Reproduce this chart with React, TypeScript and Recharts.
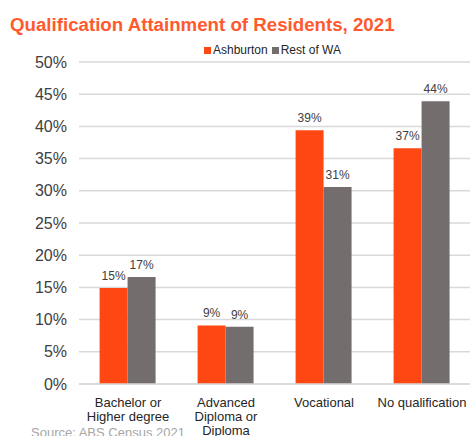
import { BarChart, Bar, XAxis, YAxis, CartesianGrid, LabelList } from "recharts";

const categories = ["Bachelor or\nHigher degree", "Advanced\nDiploma or\nDiploma", "Vocational", "No qualification"];
const ashburton = [14.9, 9.1, 39.4, 36.6];
const restOfWA = [16.6, 8.9, 30.6, 43.9];
const yTicks = [0, 5, 10, 15, 20, 25, 30, 35, 40, 45, 50];

const series = [
  { key: "ashburton", name: "Ashburton", color: "#FF4713" },
  { key: "rest", name: "Rest of WA", color: "#736E6D" },
];

const data = categories.map((c, i) => ({ name: c, ashburton: ashburton[i], rest: restOfWA[i] }));

const FONT = "'Liberation Sans', Arial, sans-serif";

function CategoryTick(props: any) {
  const { x, y, payload } = props;
  const lines = String(payload.value).split("\n");
  return (
    <text x={x} y={y} textAnchor="middle" fontSize={13} fill="#262626" fontFamily={FONT}>
      {lines.map((l, i) => (
        <tspan key={i} x={x} dy={i === 0 ? 15 : 14}>
          {l}
        </tspan>
      ))}
    </text>
  );
}

export default function App() {
  return (
    <div
      style={{
        position: "absolute",
        left: 0,
        top: 0,
        width: 470,
        height: 436,
        overflow: "hidden",
        background: "#fff",
        fontFamily: FONT,
      }}
    >
      <div
        style={{
          position: "absolute",
          left: 10,
          top: 14,
          fontSize: 18.7,
          fontWeight: "bold",
          color: "#FF5A2E",
          whiteSpace: "nowrap",
        }}
      >
        Qualification Attainment of Residents, 2021
      </div>
      <div
        style={{
          position: "absolute",
          left: 204,
          top: 43,
          fontSize: 12,
          color: "#262626",
          display: "flex",
          alignItems: "center",
          whiteSpace: "nowrap",
        }}
      >
        {series.map((s) => (
          <span key={s.key} style={{ display: "flex", alignItems: "center", marginRight: 4 }}>
            <span style={{ width: 7, height: 7, background: s.color, display: "inline-block", marginRight: 2 }} />
            {s.name}
          </span>
        ))}
      </div>
      <BarChart
        width={480}
        height={436}
        data={data}
        margin={{ top: 62, right: 9, bottom: 0, left: 0 }}
        barCategoryGap="21%"
        barGap={0}
        style={{ position: "absolute", left: 0, top: 0 }}
      >
        <CartesianGrid vertical={false} stroke="#d9d9d9" strokeWidth={1.5} />
        <XAxis
          dataKey="name"
          tick={<CategoryTick />}
          tickLine={false}
          axisLine={{ stroke: "#d9d9d9", strokeWidth: 1.5 }}
          interval={0}
          height={52}
        />
        <YAxis
          domain={[0, 50]}
          ticks={yTicks}
          tickFormatter={(v) => `${v}%`}
          tick={{ fontSize: 16, fill: "#404040", fontFamily: FONT }}
          tickLine={false}
          axisLine={false}
          tickMargin={6}
          width={79}
        />
        {series.map((s) => (
          <Bar key={s.key} dataKey={s.key} name={s.name} fill={s.color} isAnimationActive={false}>
            <LabelList
              dataKey={s.key}
              position="top"
              offset={8}
              formatter={(v: any) => `${Math.round(Number(v))}%`}
              style={{ fontSize: 12, fill: "#404040", fontFamily: FONT }}
            />
          </Bar>
        ))}
      </BarChart>
      <div style={{ position: "absolute", left: 31, top: 425, fontSize: 13, color: "#a6a6a6", whiteSpace: "nowrap" }}>
        Source: ABS Census 2021
      </div>
    </div>
  );
}
